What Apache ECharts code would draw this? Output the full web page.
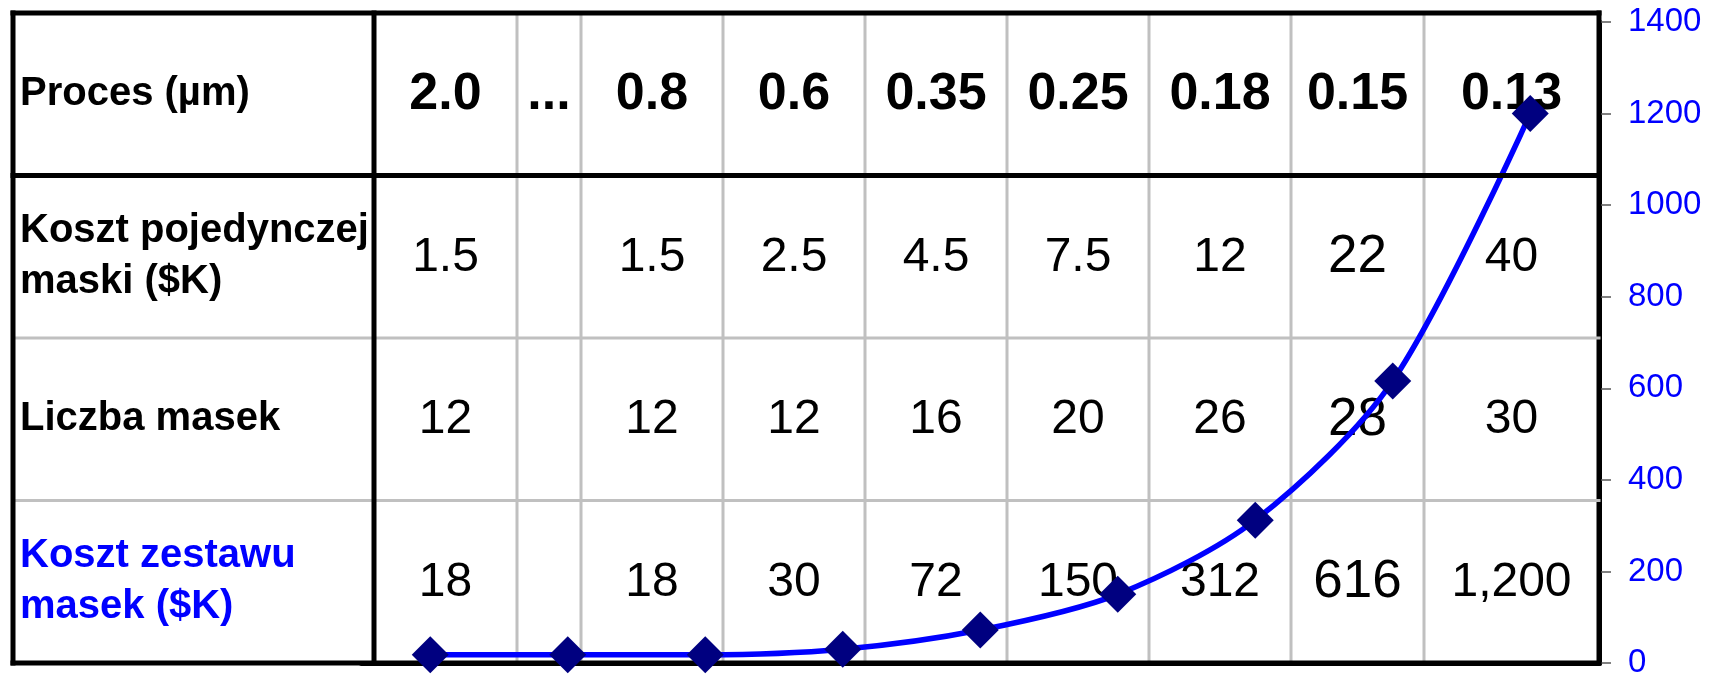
<!DOCTYPE html>
<html>
<head>
<meta charset="utf-8">
<script src="https://cdn.jsdelivr.net/npm/echarts@6/dist/echarts.min.js"></script>
<style>
html,body{margin:0;padding:0;background:#ffffff;}
#chart{width:1712px;height:674px;}
</style>
</head>
<body>
<div id="chart"></div>
<script>
// ---------- data ----------
const processNodes = ['2.0', '...', '0.8', '0.6', '0.35', '0.25', '0.18', '0.15', '0.13'];
const rowLabels = ['Proces (µm)', 'Koszt pojedynczej\nmaski ($K)', 'Liczba masek', 'Koszt zestawu\nmasek ($K)'];
const singleMaskCost = ['1.5', '', '1.5', '2.5', '4.5', '7.5', '12', '22', '40'];
const maskCount = ['12', '', '12', '12', '16', '20', '26', '28', '30'];
const maskSetCost = ['18', '', '18', '30', '72', '150', '312', '616', '1,200'];
const maskSetCostPoints = [18, 18, 18, 30, 72, 150, 312, 616, 1200];
const yTickMin = 0, yTickMax = 1400, yTickStep = 200;

// ---------- layout / style ----------
const FONT = "'Liberation Sans', Arial, Helvetica, sans-serif";
const colWidths = [361, 143, 64, 142, 142, 142, 142, 142, 133, 175];
const colEdges = [0];
colWidths.forEach(w => colEdges.push(colEdges[colEdges.length - 1] + w));
const tableWidth = colEdges[colEdges.length - 1];
const ROWS = 4;

const tableRows = [processNodes, singleMaskCost, maskCount, maskSetCost];
const cells = [];
for (let r = 0; r < ROWS; r++) {
  cells.push({ c: 0, r: r, text: rowLabels[r] });
  tableRows[r].forEach((t, i) => cells.push({ c: i + 1, r: r, text: t }));
}

// line segments in table units: [x1, y1, x2, y2, kind]  kind 0 gray, 1 black
const lowerLines = [];
const upperLines = [];
for (let i = 0; i < colEdges.length; i++) {
  const black = (i === 0 || i === 1 || i === colEdges.length - 1);
  const seg = [colEdges[i], 0, colEdges[i], ROWS, black ? 1 : 0];
  if (i === 0 || i === 1) upperLines.push(seg); else lowerLines.push(seg);
}
for (let r = 0; r <= ROWS; r++) {
  const black = (r === 0 || r === 1 || r === ROWS);
  const seg = [0, r, tableWidth, r, black ? 1 : 0];
  if (r === 0 || r === 1) upperLines.push(seg); else lowerLines.push(seg);
}

function renderSeg(params, api) {
  const p1 = api.coord([api.value(0), api.value(1)]);
  const p2 = api.coord([api.value(2), api.value(3)]);
  const black = api.value(4) === 1;
  return {
    type: 'line',
    shape: { x1: p1[0], y1: p1[1], x2: p2[0], y2: p2[1] },
    style: { stroke: black ? '#000000' : '#C0C0C0', lineWidth: black ? 5 : 3, lineCap: 'square' }
  };
}

function renderCell(params, api) {
  const cell = cells[params.dataIndex];
  const c = cell.c, r = cell.r;
  let style;
  if (c === 0) {
    const p = api.coord([colEdges[0], r + 0.5]);
    return {
      type: 'text',
      x: p[0] + 7, y: p[1],
      style: {
        text: cell.text, fill: r === 3 ? '#0000FF' : '#000000',
        fontFamily: FONT, fontSize: 40, fontWeight: 'bold',
        lineHeight: 51, align: 'left', verticalAlign: 'middle'
      }
    };
  }
  const p = api.coord([(colEdges[c] + colEdges[c + 1]) / 2, r + 0.5]);
  if (r === 0) {
    style = { fontSize: 52, fontWeight: 'bold' };
  } else {
    style = { fontSize: c === 8 ? 53 : 48, fontWeight: 'normal' };
  }
  return {
    type: 'text',
    x: p[0], y: p[1] + (r === 0 ? 0 : 1),
    style: Object.assign({
      text: cell.text, fill: '#000000', fontFamily: FONT,
      align: 'center', verticalAlign: 'middle'
    }, style)
  };
}

const chart = echarts.init(document.getElementById('chart'), null, { renderer: 'canvas' });
chart.setOption({
  animation: false,
  backgroundColor: '#ffffff',
  grid: [
    { left: 361.5, right: 113, top: 22, bottom: 11, containLabel: false, outerBoundsMode: 'none' },
    { left: 13, right: 113, top: 13, bottom: 11, containLabel: false, outerBoundsMode: 'none' }
  ],
  xAxis: [
    {
      type: 'category', gridIndex: 0, data: processNodes, boundaryGap: true,
      axisLine: { show: true, lineStyle: { color: '#000000', width: 5 } },
      axisTick: { show: false }, axisLabel: { show: false }, splitLine: { show: false }
    },
    { type: 'value', gridIndex: 1, min: 0, max: tableWidth, show: false }
  ],
  yAxis: [
    {
      type: 'value', gridIndex: 0, position: 'right',
      min: yTickMin, max: yTickMax, interval: yTickStep,
      axisLine: { show: true, lineStyle: { color: '#000000', width: 5 } },
      axisTick: { show: true, length: 12, lineStyle: { color: '#808080', width: 2 } },
      axisLabel: {
        color: '#0000FF', fontSize: 33, fontFamily: FONT, margin: 29,
        formatter: v => String(v)
      },
      splitLine: { show: false }
    },
    { type: 'value', gridIndex: 1, min: 0, max: ROWS, inverse: true, show: false }
  ],
  series: [
    {
      type: 'custom', xAxisIndex: 1, yAxisIndex: 1, z: 1, silent: true,
      renderItem: renderSeg, data: lowerLines
    },
    {
      type: 'custom', xAxisIndex: 1, yAxisIndex: 1, z: 2, silent: true,
      renderItem: renderCell, data: cells.map(d => [d.c, d.r])
    },
    {
      type: 'line', xAxisIndex: 0, yAxisIndex: 0, z: 3,
      data: maskSetCostPoints, smooth: 0.3, clip: false,
      symbol: 'diamond', symbolSize: 37,
      itemStyle: { color: '#000080' },
      lineStyle: { color: '#0000FF', width: 5.5 }
    },
    {
      type: 'custom', xAxisIndex: 1, yAxisIndex: 1, z: 4, silent: true,
      renderItem: renderSeg, data: upperLines
    }
  ]
});
</script>
</body>
</html>
